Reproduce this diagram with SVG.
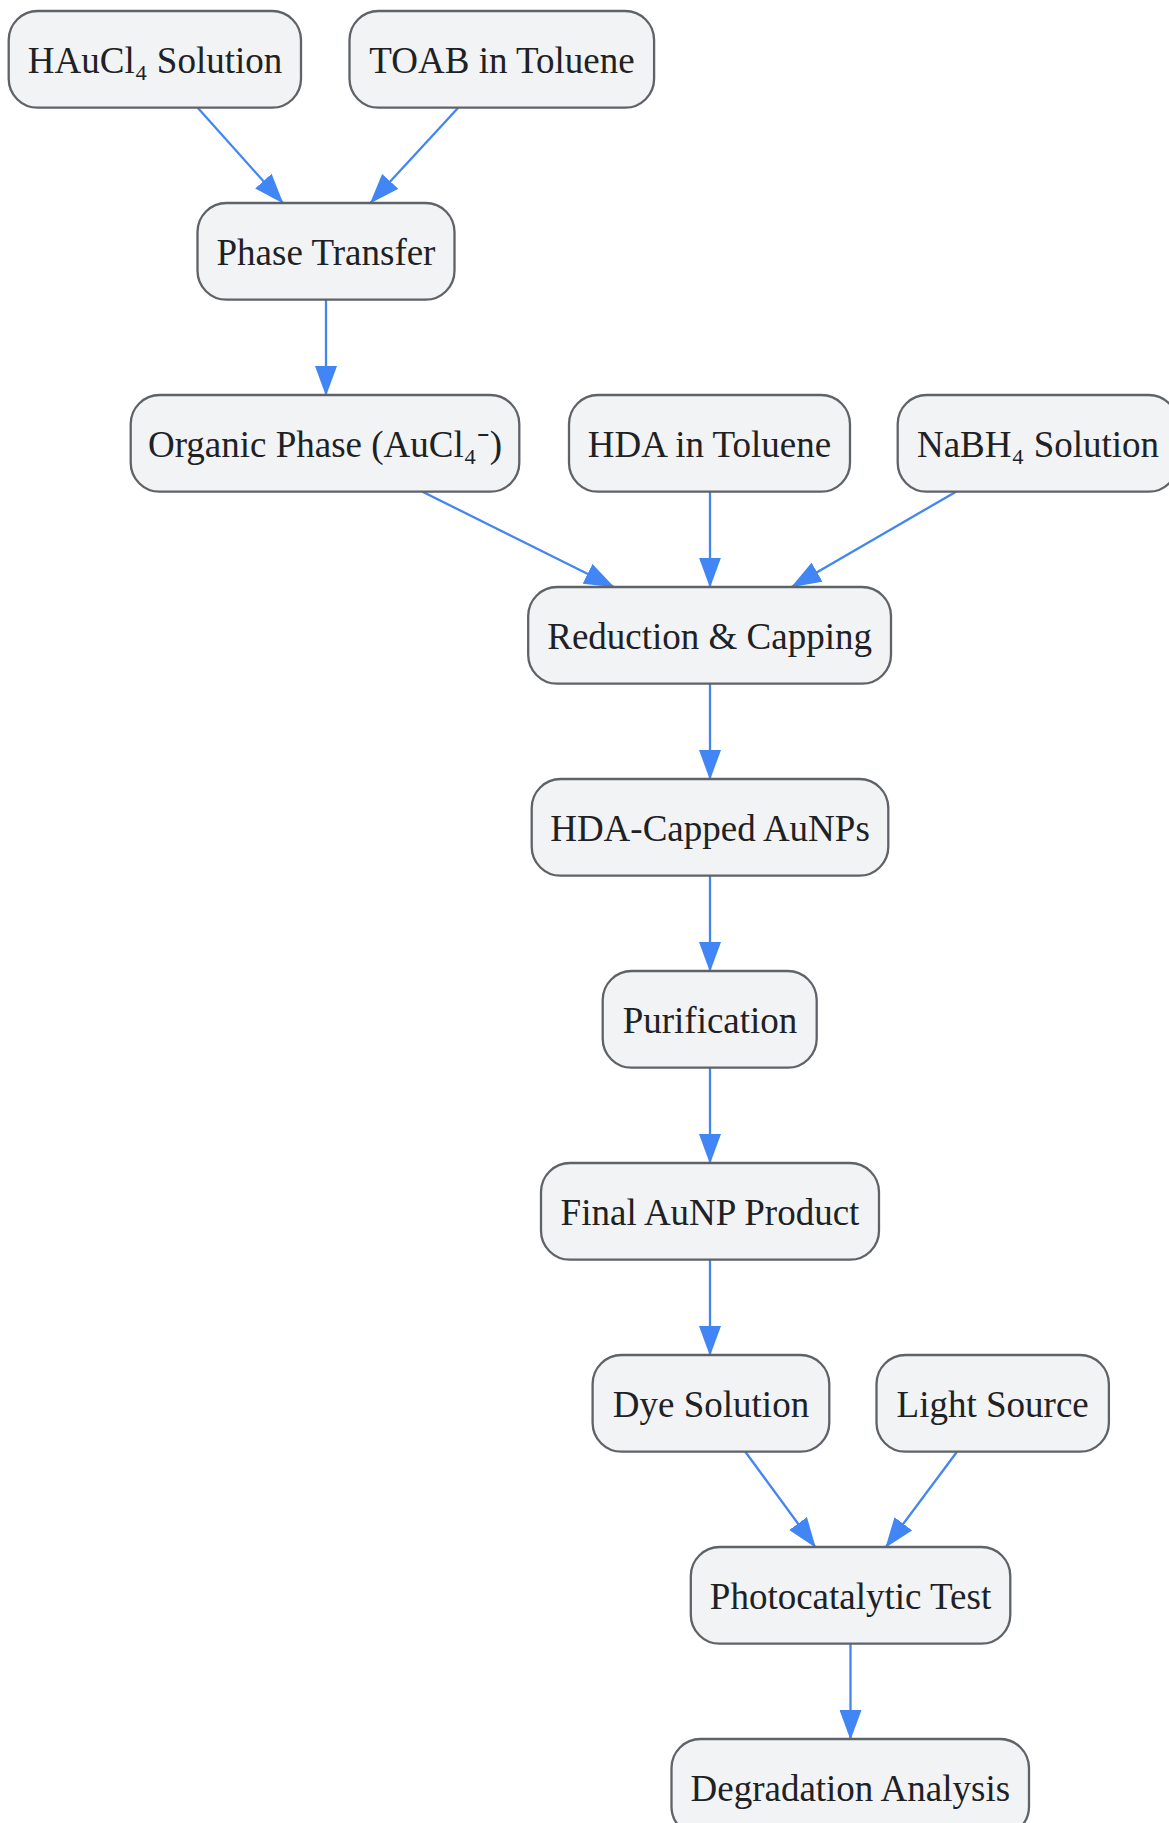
<svg xmlns="http://www.w3.org/2000/svg" width="1169" height="1823" viewBox="0 0 1169 1823">
<style>
.node rect{fill:#f1f3f4;stroke:#5f6368;stroke-width:2.3}
.node text{font-family:"Liberation Serif","Times New Roman",serif;font-size:37px;fill:#202124;text-anchor:middle}
.edges path{fill:none;stroke:#4285f4;stroke-width:2.3}
</style>
<defs>
<marker id="arrow" markerUnits="userSpaceOnUse" markerWidth="30" markerHeight="22" refX="29" refY="11" orient="auto" viewBox="0 0 30 22">
<path d="M0,0 L30,11 L0,22 Z" fill="#4285f4"/>
</marker>
</defs>
<rect width="1169" height="1823" fill="#ffffff"/>
<g class="edges">
<path d="M197.7,107.7 L282.7,202.7" marker-end="url(#arrow)"/>
<path d="M458.2,107.7 L370.6,202.7" marker-end="url(#arrow)"/>
<path d="M326,299.7 L326,395" marker-end="url(#arrow)"/>
<path d="M422.5,491.7 L613.5,586.7" marker-end="url(#arrow)"/>
<path d="M710,491.7 L710,586.7" marker-end="url(#arrow)"/>
<path d="M956,491.7 L792,586.7" marker-end="url(#arrow)"/>
<path d="M710,683.4 L710,779" marker-end="url(#arrow)"/>
<path d="M710,875.7 L710,971" marker-end="url(#arrow)"/>
<path d="M710,1067.7 L710,1163" marker-end="url(#arrow)"/>
<path d="M710,1259.7 L710,1355" marker-end="url(#arrow)"/>
<path d="M745.3,1451.7 L815.2,1547" marker-end="url(#arrow)"/>
<path d="M957,1451.7 L886,1547" marker-end="url(#arrow)"/>
<path d="M850.5,1643.7 L850.5,1739" marker-end="url(#arrow)"/>
</g>
<g id="n1" class="node"><rect x="8.7" y="11" width="292.3" height="96.7" rx="29"/><text x="155" y="73">HAuCl₄ Solution</text></g>
<g id="n2" class="node"><rect x="349.5" y="11" width="304.6" height="96.7" rx="29"/><text x="502" y="73">TOAB in Toluene</text></g>
<g id="n3" class="node"><rect x="197.5" y="203" width="257" height="96.7" rx="29"/><text x="326" y="265">Phase Transfer</text></g>
<g id="n4" class="node"><rect x="130.7" y="395" width="388.6" height="96.7" rx="29"/><text x="325" y="457">Organic Phase (AuCl₄⁻)</text></g>
<g id="n5" class="node"><rect x="569" y="395" width="281" height="96.7" rx="29"/><text x="709.5" y="457">HDA in Toluene</text></g>
<g id="n6" class="node"><rect x="897.7" y="395" width="280" height="96.7" rx="29"/><text x="1038" y="457">NaBH₄ Solution</text></g>
<g id="n7" class="node"><rect x="528.2" y="587" width="362.8" height="96.7" rx="29"/><text x="709.6" y="649">Reduction &amp; Capping</text></g>
<g id="n8" class="node"><rect x="531.7" y="779" width="356.6" height="96.7" rx="29"/><text x="710" y="841">HDA-Capped AuNPs</text></g>
<g id="n9" class="node"><rect x="602.7" y="971" width="214" height="96.7" rx="29"/><text x="710" y="1033">Purification</text></g>
<g id="n10" class="node"><rect x="541" y="1163" width="338" height="96.7" rx="29"/><text x="710" y="1225">Final AuNP Product</text></g>
<g id="n11" class="node"><rect x="592.6" y="1355" width="236.7" height="96.7" rx="29"/><text x="711" y="1417">Dye Solution</text></g>
<g id="n12" class="node"><rect x="876.5" y="1355" width="232.4" height="96.7" rx="29"/><text x="992.7" y="1417">Light Source</text></g>
<g id="n13" class="node"><rect x="690.8" y="1547" width="319.5" height="96.7" rx="29"/><text x="850.5" y="1609">Photocatalytic Test</text></g>
<g id="n14" class="node"><rect x="671.5" y="1739" width="357.5" height="96.7" rx="29"/><text x="850.3" y="1801">Degradation Analysis</text></g>
</svg>
